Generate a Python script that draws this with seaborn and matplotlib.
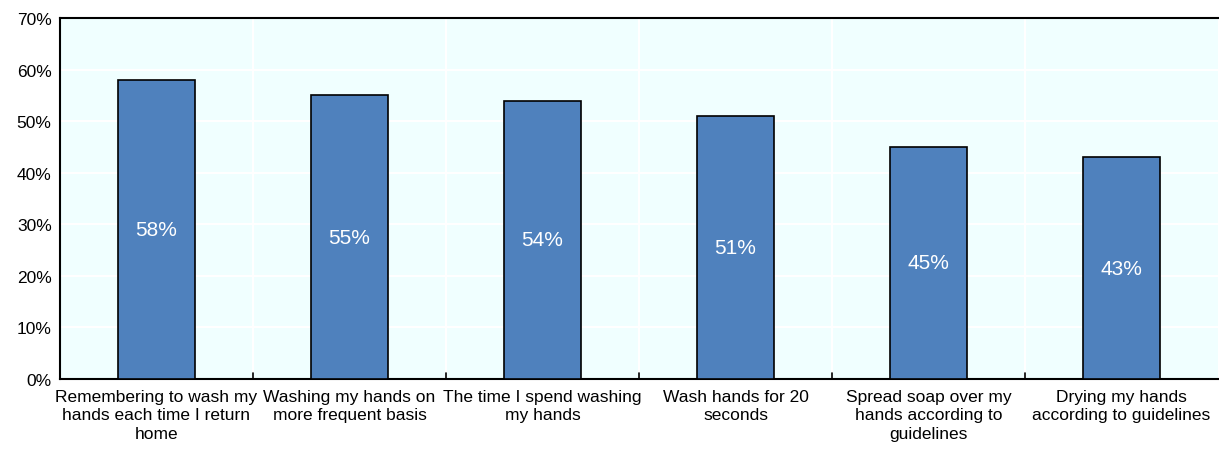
import matplotlib
matplotlib.use("Agg")
import matplotlib.pyplot as plt
import seaborn as sns
import pandas as pd
from matplotlib.ticker import PercentFormatter, MultipleLocator

categories = [
    "Remembering to wash my\nhands each time I return\nhome",
    "Washing my hands on\nmore frequent basis",
    "The time I spend washing\nmy hands",
    "Wash hands for 20\nseconds",
    "Spread soap over my\nhands according to\nguidelines",
    "Drying my hands\naccording to guidelines",
]
shares = [58, 55, 54, 51, 45, 43]

df = pd.DataFrame({"category": categories, "share": shares})

sns.set_theme(style="white")
plt.rcParams["font.family"] = ["Liberation Sans", "DejaVu Sans"]
plt.rcParams["text.color"] = "black"
plt.rcParams["xtick.color"] = "black"
plt.rcParams["ytick.color"] = "black"

fig = plt.figure(figsize=(12.19, 4.52), dpi=100)
ax = fig.add_axes([60 / 1219, 1 - 380 / 452, 1158 / 1219, 361 / 452])
ax.set_facecolor("#F0FFFF")

sns.barplot(data=df, x="category", y="share", color="#4F81BD", width=0.4,
            edgecolor="black", linewidth=1.2, saturation=1, ax=ax, zorder=3)

ax.set_ylim(0, 70)
ax.set_xlim(-0.5, len(categories) - 0.5)
ax.yaxis.set_major_locator(MultipleLocator(10))
ax.yaxis.set_major_formatter(PercentFormatter(decimals=0))

# white grid: horizontal at ticks, vertical at category boundaries
for y in range(10, 70, 10):
    ax.axhline(y, color="white", lw=1.5, zorder=1)
for i in range(len(categories) - 1):
    ax.axvline(i + 0.5, color="white", lw=1.5, zorder=1)

for i, v in enumerate(shares):
    ax.text(i, v / 2, f"{v}%", ha="center", va="center", color="white",
            fontsize=15, zorder=4)

ax.set_xlabel("")
ax.set_ylabel("")
ax.tick_params(axis="x", length=0, labelsize=12.5, pad=7)
ax.tick_params(axis="y", length=0, labelsize=12.5, pad=6)
for lab in ax.get_xticklabels():
    lab.set_linespacing(1.3)
for i in range(len(categories) - 1):
    ax.plot([i + 0.5, i + 0.5], [0, 1.2], color="black", lw=1.2, zorder=5, clip_on=False)

for side in ["left", "top", "bottom"]:
    ax.spines[side].set_color("black")
    ax.spines[side].set_linewidth(1.5)
ax.spines["right"].set_visible(False)

fig.savefig("out.png", dpi=100)
